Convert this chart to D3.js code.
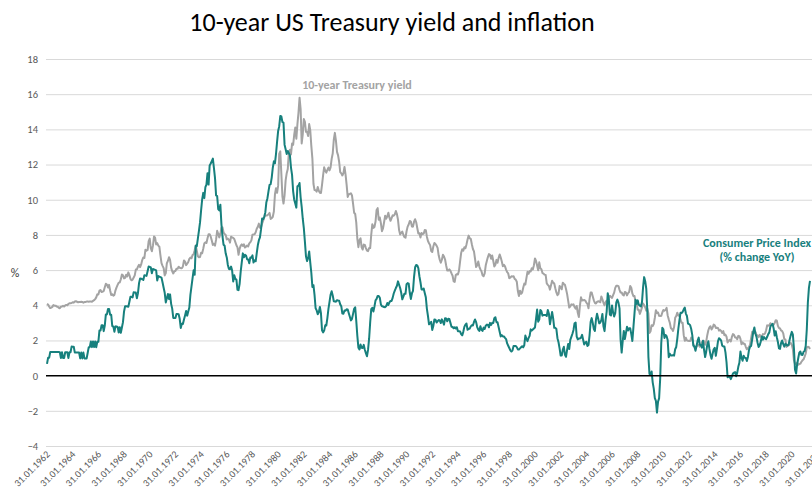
<!DOCTYPE html>
<html>
<head>
<meta charset="utf-8">
<script src="https://cdn.jsdelivr.net/npm/d3@7"></script>
<style>
  html, body { margin: 0; padding: 0; background: #fff; }
  svg { display: block; font-family: Carlito, Calibri, Lato, "Open Sans", sans-serif; }
</style>
</head>
<body>
<svg id="chart" width="812" height="489"></svg>
<script>
// Monthly data, January 1962 to June 2021
const startYear = 1962;

const treasuryYield = [
  4.08,4.04,3.93,3.84,3.87,3.91,4.01,3.98,3.98,3.93,3.92,3.86,
  3.83,3.92,3.93,3.97,3.93,3.99,4.02,4.00,4.08,4.11,4.12,4.13,
  4.17,4.15,4.22,4.23,4.20,4.17,4.19,4.19,4.20,4.19,4.15,4.18,
  4.19,4.21,4.21,4.20,4.21,4.21,4.20,4.25,4.29,4.35,4.45,4.62,
  4.61,4.83,4.87,4.75,4.78,4.81,5.02,5.22,5.18,5.01,5.16,4.84,
  4.58,4.63,4.54,4.59,4.85,5.02,5.16,5.28,5.30,5.48,5.75,5.70,
  5.53,5.56,5.74,5.64,5.87,5.72,5.50,5.42,5.46,5.58,5.70,6.03,
  6.04,6.19,6.30,6.17,6.32,6.57,6.72,6.69,7.16,7.10,7.14,7.65,
  7.79,7.24,7.07,7.39,7.91,7.84,7.46,7.53,7.39,7.33,6.84,6.39,
  6.24,6.11,5.70,5.83,6.39,6.52,6.73,6.58,6.14,5.93,5.81,5.93,
  5.95,6.08,6.07,6.19,6.13,6.11,6.11,6.21,6.55,6.48,6.28,6.36,
  6.46,6.64,6.71,6.67,6.85,6.90,7.13,7.40,7.09,6.79,6.73,6.74,
  6.99,6.96,7.21,7.51,7.58,7.54,7.81,8.04,8.04,7.90,7.68,7.43,
  7.50,7.39,7.73,8.23,8.06,7.86,8.06,8.40,8.43,8.14,8.05,8.00,
  7.74,7.79,7.73,7.56,7.90,7.86,7.83,7.77,7.59,7.41,7.29,6.87,
  7.21,7.39,7.46,7.37,7.46,7.28,7.33,7.40,7.34,7.52,7.58,7.69,
  8.01,8.03,8.04,8.15,8.35,8.46,8.64,8.41,8.42,8.64,8.81,9.01,
  9.10,9.10,9.12,9.18,9.25,8.91,8.95,9.03,9.33,10.30,10.65,10.39,
  10.80,12.60,12.75,11.47,10.18,9.78,10.25,11.10,11.51,11.75,12.68,12.84,
  12.57,13.19,13.12,13.68,14.10,13.47,14.28,14.94,15.80,15.15,13.20,13.72,
  14.59,14.43,13.86,13.87,13.62,14.30,13.95,13.06,12.34,10.91,10.55,10.54,
  10.46,10.72,10.51,10.40,10.38,10.85,11.38,11.85,11.65,11.54,11.69,11.83,
  11.67,11.84,12.32,12.63,13.41,13.80,13.36,12.72,12.52,12.16,11.57,11.50,
  11.38,11.51,11.86,11.43,10.85,10.16,10.31,10.33,10.37,10.24,9.78,9.26,
  9.19,8.70,7.78,7.30,7.71,7.80,7.30,7.17,7.45,7.43,7.25,7.11,
  7.08,7.25,7.25,8.02,8.61,8.40,8.45,8.76,9.42,9.52,8.86,8.99,
  8.67,8.21,8.37,8.72,9.09,8.92,9.06,9.26,8.98,8.80,8.96,9.11,
  9.09,9.17,9.36,9.18,8.86,8.28,8.02,8.11,8.19,8.01,7.87,7.84,
  8.21,8.47,8.59,8.79,8.76,8.48,8.47,8.75,8.89,8.72,8.39,8.08,
  8.09,7.85,8.11,8.04,8.07,8.28,8.27,7.90,7.65,7.53,7.42,7.09,
  7.03,7.34,7.54,7.48,7.39,7.26,6.84,6.59,6.42,6.59,6.87,6.77,
  6.60,6.26,5.98,5.97,6.04,5.96,5.81,5.68,5.36,5.33,5.72,5.77,
  5.75,5.97,6.48,6.97,7.18,7.10,7.30,7.24,7.46,7.74,7.96,7.81,
  7.78,7.47,7.20,7.06,6.63,6.17,6.28,6.49,6.20,6.04,5.93,5.71,
  5.65,5.81,6.27,6.51,6.74,6.91,6.87,6.64,6.83,6.53,6.20,6.30,
  6.58,6.42,6.69,6.89,6.71,6.49,6.22,6.30,6.21,6.03,5.88,5.81,
  5.54,5.57,5.65,5.64,5.65,5.50,5.46,5.34,4.81,4.53,4.83,4.65,
  4.72,5.00,5.23,5.18,5.54,5.90,5.79,5.94,5.92,6.11,6.03,6.28,
  6.66,6.52,6.26,5.99,6.44,6.10,6.05,5.83,5.80,5.74,5.72,5.24,
  5.16,5.10,4.89,5.14,5.39,5.28,5.24,4.97,4.73,4.57,4.65,5.09,
  5.04,4.91,5.28,5.21,5.16,4.93,4.65,4.26,3.87,3.94,4.05,4.03,
  4.05,3.90,3.81,3.96,3.57,3.33,3.98,4.45,4.27,4.29,4.30,4.27,
  4.15,4.08,3.83,4.35,4.72,4.73,4.50,4.28,4.13,4.10,4.19,4.23,
  4.22,4.17,4.50,4.34,4.14,4.00,4.18,4.26,4.20,4.46,4.54,4.47,
  4.42,4.57,4.72,4.99,5.11,5.11,5.09,4.88,4.72,4.73,4.60,4.56,
  4.76,4.72,4.56,4.69,4.75,5.10,5.00,4.67,4.52,4.53,4.15,4.10,
  3.74,3.74,3.51,3.68,3.88,4.10,4.01,3.89,3.69,3.81,3.53,2.42,
  2.52,2.87,2.82,2.93,3.29,3.72,3.56,3.59,3.40,3.39,3.40,3.59,
  3.73,3.69,3.73,3.85,3.42,3.20,3.01,2.70,2.65,2.54,2.76,3.29,
  3.39,3.58,3.41,3.46,3.17,3.00,3.00,2.30,1.98,2.15,2.01,1.98,
  1.97,1.97,2.17,2.05,1.80,1.62,1.53,1.68,1.72,1.75,1.65,1.72,
  1.91,1.98,1.96,1.76,1.93,2.30,2.58,2.74,2.81,2.62,2.72,2.90,
  2.86,2.71,2.72,2.71,2.56,2.60,2.54,2.42,2.53,2.30,2.33,2.21,
  1.88,1.98,2.04,1.94,2.20,2.36,2.32,2.17,2.17,2.07,2.26,2.24,
  2.09,1.78,1.89,1.81,1.81,1.64,1.50,1.56,1.63,1.76,2.14,2.49,
  2.43,2.42,2.48,2.30,2.30,2.19,2.32,2.21,2.20,2.36,2.35,2.40,
  2.58,2.86,2.84,2.87,2.98,2.91,2.89,2.89,3.00,3.15,3.12,2.83,
  2.71,2.68,2.57,2.53,2.40,2.07,2.06,1.63,1.70,1.71,1.81,1.86,
  1.76,1.50,0.87,0.66,0.67,0.73,0.62,0.65,0.68,0.79,0.87,0.93,
  1.08,1.26,1.61,1.64,1.62,1.52
];

const cpiYoY = [
  0.67,1.01,1.01,1.34,1.34,1.34,1.34,1.34,1.34,1.34,1.34,1.34,
  1.33,1.00,1.33,1.00,1.00,1.33,1.33,1.33,1.00,1.33,1.33,1.65,
  1.64,1.64,1.31,1.31,1.31,1.31,1.31,0.98,1.31,0.98,1.31,0.98,
  0.97,0.97,1.29,1.62,1.62,1.94,1.62,1.94,1.62,1.94,1.61,1.92,
  1.92,2.56,2.56,2.87,2.87,2.53,2.85,3.48,3.48,3.79,3.79,3.46,
  3.46,2.81,2.80,2.49,2.80,2.79,2.77,2.45,2.75,2.43,2.74,3.04,
  3.65,3.95,3.94,3.93,3.92,4.20,4.49,4.48,4.45,4.74,4.73,4.72,
  4.40,4.69,5.25,5.52,5.51,5.48,5.44,5.71,5.70,5.67,5.93,6.20,
  6.18,6.15,5.82,6.06,6.04,6.01,5.98,5.41,5.66,5.63,5.60,5.57,
  5.29,5.00,4.71,4.16,4.40,4.64,4.36,4.62,4.08,3.81,3.28,3.27,
  3.27,3.51,3.50,3.49,3.23,2.71,2.95,2.94,3.19,3.42,3.67,3.41,
  3.65,3.87,4.59,5.06,5.53,5.99,5.73,7.38,7.36,7.80,8.25,8.71,
  9.39,10.02,10.39,10.09,10.71,10.86,11.51,10.86,11.95,12.06,12.20,12.34,
  11.80,11.23,10.25,10.21,9.47,9.39,9.72,8.60,7.91,7.44,7.38,6.94,
  6.72,6.29,6.07,6.05,6.20,5.97,5.35,5.71,5.50,5.46,4.88,4.86,
  5.22,5.91,6.44,6.95,6.73,6.87,6.83,6.62,6.60,6.39,6.72,6.70,
  6.84,6.43,6.55,6.50,6.96,7.41,7.70,7.86,8.31,8.93,8.89,9.03,
  9.28,9.86,10.09,10.49,10.85,10.89,11.26,11.82,12.18,12.07,12.61,13.29,
  13.91,14.18,14.76,14.73,14.41,14.38,13.13,12.87,12.60,12.77,12.65,12.52,
  11.83,11.41,10.49,10.00,9.78,9.55,10.76,10.80,10.95,10.14,9.59,8.92,
  8.39,7.62,6.78,6.51,6.68,7.06,6.44,5.85,5.04,5.14,4.59,3.83,
  3.71,3.49,3.60,3.90,3.55,2.58,2.46,2.56,2.86,2.85,3.27,3.79,
  4.19,4.60,4.80,4.56,4.23,4.22,4.20,4.29,4.27,4.26,4.05,3.95,
  3.53,3.52,3.70,3.69,3.77,3.76,3.55,3.35,3.14,3.23,3.51,3.80,
  3.89,3.11,2.26,1.59,1.49,1.77,1.58,1.57,1.75,1.47,1.28,1.10,
  1.46,2.10,3.03,3.78,3.86,3.65,3.93,4.28,4.36,4.53,4.53,4.43,
  4.05,3.94,3.93,3.90,3.89,3.96,4.13,4.02,4.17,4.25,4.25,4.42,
  4.67,4.83,4.98,5.11,5.36,5.17,4.98,4.71,4.34,4.49,4.66,4.65,
  5.20,5.26,5.23,4.71,4.36,4.67,4.82,5.62,6.16,6.29,6.27,6.11,
  5.65,5.31,4.90,4.89,4.95,4.70,4.45,3.80,3.39,2.92,2.99,3.06,
  2.60,2.82,3.19,3.18,3.02,3.09,3.16,3.14,2.99,3.20,3.05,2.90,
  3.26,3.25,3.09,3.23,3.22,3.00,2.78,2.77,2.69,2.75,2.68,2.75,
  2.52,2.52,2.51,2.36,2.29,2.49,2.77,2.90,2.96,2.61,2.67,2.67,
  2.80,2.86,2.85,3.05,3.19,3.04,2.76,2.62,2.54,2.81,2.61,2.54,
  2.73,2.65,2.84,2.90,2.89,2.75,3.00,2.88,3.00,2.99,3.26,3.32,
  3.04,3.03,2.76,2.50,2.23,2.30,2.23,2.23,2.15,2.08,1.83,1.70,
  1.57,1.44,1.37,1.44,1.69,1.68,1.68,1.62,1.49,1.49,1.55,1.61,
  1.67,1.61,1.73,2.28,2.09,1.96,2.14,2.26,2.63,2.56,2.62,2.68,
  2.74,3.22,3.76,3.07,3.19,3.73,3.66,3.41,3.45,3.45,3.45,3.39,
  3.73,3.53,2.92,3.27,3.62,3.25,2.72,2.72,2.65,2.13,1.90,1.55,
  1.14,1.14,1.48,1.64,1.18,1.07,1.46,1.80,1.51,2.03,2.20,2.38,
  2.60,2.98,3.02,2.22,2.06,2.11,2.11,2.16,2.32,2.04,1.77,1.88,
  1.93,1.69,1.74,2.29,3.05,3.27,2.99,2.65,2.54,3.19,3.52,3.26,
  2.97,3.01,3.15,3.51,2.80,2.53,3.17,3.64,4.69,4.35,3.46,3.42,
  3.99,3.60,3.36,3.55,4.17,4.32,4.15,3.82,2.06,1.31,1.97,2.54,
  2.08,2.42,2.78,2.57,2.69,2.69,2.36,1.97,2.76,3.54,4.31,4.08,
  4.28,4.03,3.98,3.94,4.18,5.02,5.60,5.37,4.94,3.66,1.07,0.09,
  0.03,0.24,-0.38,-0.74,-1.28,-1.43,-2.10,-1.48,-1.29,-0.18,1.84,2.72,
  2.63,2.14,2.31,2.24,2.02,1.05,1.24,1.15,1.14,1.17,1.14,1.50,
  1.63,2.11,2.68,3.16,3.57,3.56,3.63,3.77,3.87,3.53,3.39,2.96,
  2.93,2.87,2.65,2.30,1.70,1.66,1.41,1.69,1.99,2.16,1.76,1.74,
  1.59,1.98,1.47,1.06,1.36,1.75,1.96,1.52,1.18,0.96,1.24,1.50,
  1.58,1.13,1.51,1.95,2.13,2.07,1.99,1.70,1.66,1.66,1.32,0.76,
  -0.09,-0.03,-0.07,-0.20,-0.04,0.12,0.17,0.20,-0.04,0.17,0.50,0.73,
  1.37,1.02,0.85,1.13,1.02,1.01,0.83,1.06,1.46,1.64,1.69,2.07,
  2.50,2.74,2.38,2.20,1.87,1.63,1.73,1.94,2.23,2.04,2.20,2.11,
  2.07,2.21,2.36,2.46,2.80,2.87,2.95,2.70,2.28,2.52,2.18,1.91,
  1.55,1.52,1.86,2.00,1.79,1.65,1.81,1.75,1.71,1.76,2.05,2.29,
  2.49,2.33,1.54,0.33,0.12,0.65,0.99,1.31,1.37,1.18,1.17,1.36,
  1.40,1.68,2.62,4.16,4.99,5.39
];

const yTicks = [-4, -2, 0, 2, 4, 6, 8, 10, 12, 14, 16, 18];
const xTickLabels = [
  "31.01.1962","31.01.1964","31.01.1966","31.01.1968","31.01.1970","31.01.1972",
  "31.01.1974","31.01.1976","31.01.1978","31.01.1980","31.01.1982","31.01.1984",
  "31.01.1986","31.01.1988","31.01.1990","31.01.1992","31.01.1994","31.01.1996",
  "31.01.1998","31.01.2000","31.01.2002","31.01.2004","31.01.2006","31.01.2008",
  "31.01.2010","31.01.2012","31.01.2014","31.01.2016","31.01.2018","31.01.2020",
  "31.01.2022"
];
const tickStepMonths = 24;

const titleText = "10-year US Treasury yield and inflation";
const yieldLabel = "10-year Treasury yield";
const cpiLabel = ["Consumer Price Index", "(% change YoY)"];

// ---------- drawing ----------
const svg = d3.select("#chart");
const plotLeft = 46, plotRight = 812;
const yieldColor = "#a3a3a3";
const cpiColor = "#17807d";
const textGray = "#595959";

const x = d3.scaleLinear().domain([0, 713]).range([47, 810]);
const y = d3.scaleLinear().domain([-4, 18]).range([446, 59]);

// gridlines
svg.append("g").selectAll("line").data(yTicks.filter(d => d !== 0)).join("line")
  .attr("x1", plotLeft).attr("x2", plotRight)
  .attr("y1", d => y(d) + 0.5).attr("y2", d => y(d) + 0.5)
  .attr("stroke", "#d9d9d9").attr("stroke-width", 1);

// y axis labels
const yAxis = d3.axisLeft(y).tickValues(yTicks).tickSize(0).tickPadding(0);
const yg = svg.append("g").attr("transform", "translate(38,0)").call(yAxis);
yg.select(".domain").remove();
yg.selectAll("text").attr("fill", textGray).attr("font-size", 10.5)
  .attr("font-family", "Carlito, Calibri, Lato, sans-serif");

// x axis labels
const tickIdx = xTickLabels.map((d, i) => i * tickStepMonths);
const xAxis = d3.axisBottom(x).tickValues(tickIdx)
  .tickFormat((d, i) => xTickLabels[i]).tickSize(0).tickPadding(0);
const xg = svg.append("g").attr("transform", "translate(0,452)").call(xAxis);
xg.select(".domain").remove();
xg.selectAll("text")
  .attr("fill", textGray).attr("font-size", 10)
  .attr("font-family", "Carlito, Calibri, Lato, sans-serif")
  .attr("text-anchor", "end").attr("dy", null).attr("y", 0)
  .attr("transform", "translate(3,3) rotate(-45)");

// lines
const line = d3.line().x((d, i) => x(i)).y(d => y(d));
svg.append("path").datum(treasuryYield)
  .attr("d", line).attr("fill", "none")
  .attr("stroke", yieldColor).attr("stroke-width", 2).attr("stroke-linejoin", "round");
svg.append("path").datum(cpiYoY)
  .attr("d", line).attr("fill", "none")
  .attr("stroke", cpiColor).attr("stroke-width", 2).attr("stroke-linejoin", "round");

// zero line
svg.append("line")
  .attr("x1", plotLeft).attr("x2", plotRight)
  .attr("y1", y(0)).attr("y2", y(0))
  .attr("stroke", "#000").attr("stroke-width", 1.5);

// title
svg.append("text").attr("x", 392).attr("y", 31)
  .attr("text-anchor", "middle").attr("font-size", 26).attr("fill", "#000")
  .text(titleText);

// % label
svg.append("text").attr("x", 15).attr("y", 277)
  .attr("text-anchor", "middle").attr("font-size", 12).attr("fill", "#404040")
  .text("%");

// series labels
svg.append("text").attr("x", 357).attr("y", 89)
  .attr("text-anchor", "middle").attr("font-size", 12).attr("font-weight", "bold")
  .attr("fill", yieldColor).text(yieldLabel);

svg.append("text").attr("text-anchor", "middle").attr("font-size", 12)
  .attr("font-weight", "bold").attr("fill", cpiColor)
  .selectAll("tspan").data(cpiLabel).join("tspan")
  .attr("x", 757).attr("y", (d, i) => 247 + i * 14).text(d => d);
</script>
</body>
</html>
